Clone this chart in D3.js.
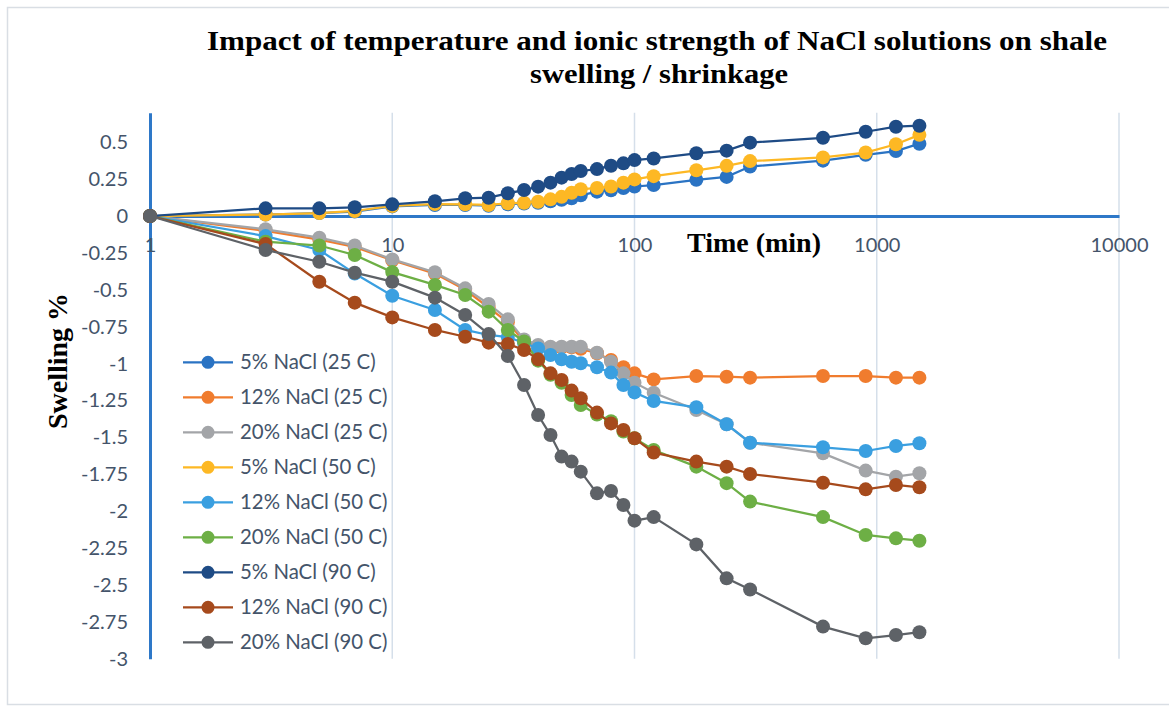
<!DOCTYPE html>
<html>
<head>
<meta charset="utf-8">
<script src="https://cdn.jsdelivr.net/npm/d3@7"></script>
<style>
    body{margin:0;background:#fff;}
    svg{display:block;}
    .tick text{font-family:Lato,'Open Sans',sans-serif;font-size:20px;fill:#44546A;}
</style>
</head>
<body>
<svg id="chart" width="1169" height="706"></svg>
<script>

const times=[1,3,5,7,10,15,20,25,30,35,40,45,50,55,60,70,80,90,100,120,180,240,300,600,900,1200,1500]

const nacl5_25=[0,0.01,0.02,0.03,0.065,0.075,0.075,0.07,0.08,0.085,0.09,0.1,0.11,0.12,0.14,0.165,0.175,0.19,0.2,0.21,0.245,0.265,0.335,0.375,0.415,0.44,0.49]
const nacl12_25=[0,-0.1,-0.16,-0.21,-0.3,-0.39,-0.5,-0.62,-0.72,-0.85,-0.88,-0.89,-0.89,-0.89,-0.9,-0.93,-0.976,-1.025,-1.066,-1.107,-1.084,-1.089,-1.095,-1.084,-1.084,-1.095,-1.095]
const nacl20_25=[0,-0.09,-0.147,-0.2,-0.294,-0.381,-0.49,-0.596,-0.7,-0.836,-0.874,-0.885,-0.885,-0.885,-0.885,-0.926,-0.987,-1.066,-1.129,-1.197,-1.314,-1.411,-1.536,-1.608,-1.725,-1.766,-1.743]
const nacl5_50=[0,0.01,0.02,0.034,0.068,0.081,0.079,0.075,0.086,0.09,0.097,0.113,0.13,0.158,0.181,0.19,0.2,0.226,0.248,0.27,0.31,0.34,0.372,0.397,0.43,0.486,0.55]
const nacl12_50=[0,-0.136,-0.23,-0.39,-0.54,-0.637,-0.772,-0.806,-0.82,-0.86,-0.897,-0.942,-0.971,-0.987,-0.998,-1.025,-1.061,-1.145,-1.195,-1.253,-1.296,-1.411,-1.536,-1.567,-1.592,-1.558,-1.54]
const nacl20_50=[0,-0.174,-0.2,-0.264,-0.38,-0.467,-0.535,-0.648,-0.772,-0.85,-0.98,-1.075,-1.13,-1.213,-1.28,-1.345,-1.39,-1.46,-1.506,-1.585,-1.698,-1.81,-1.935,-2.04,-2.161,-2.184,-2.2]
const nacl5_90=[0,0.052,0.052,0.059,0.079,0.1,0.12,0.124,0.154,0.176,0.199,0.226,0.26,0.285,0.305,0.318,0.341,0.357,0.379,0.39,0.425,0.443,0.497,0.53,0.571,0.605,0.612]
const nacl12_90=[0,-0.19,-0.445,-0.587,-0.687,-0.772,-0.818,-0.858,-0.867,-0.908,-0.971,-1.066,-1.111,-1.183,-1.235,-1.332,-1.405,-1.45,-1.506,-1.603,-1.664,-1.698,-1.748,-1.807,-1.852,-1.822,-1.838]
const nacl20_90=[0,-0.23,-0.31,-0.384,-0.445,-0.553,-0.67,-0.8,-0.948,-1.145,-1.348,-1.484,-1.63,-1.664,-1.732,-1.879,-1.863,-1.958,-2.064,-2.04,-2.225,-2.455,-2.53,-2.782,-2.861,-2.839,-2.82]

const series_names=['5% NaCl (25 C)','12% NaCl (25 C)','20% NaCl (25 C)','5% NaCl (50 C)','12% NaCl (50 C)','20% NaCl (50 C)','5% NaCl (90 C)','12% NaCl (90 C)','20% NaCl (90 C)']
const series_values=[nacl5_25,nacl12_25,nacl20_25,nacl5_50,nacl12_50,nacl20_50,nacl5_90,nacl12_90,nacl20_90]

const x_ticks=[1,10,100,1000,10000]
const y_ticks=[0.5,0.25,0,-0.25,-0.5,-0.75,-1,-1.25,-1.5,-1.75,-2,-2.25,-2.5,-2.75,-3]

const colors=['#2A73C3','#F07C2E','#A3A5A8','#FDB824','#3A9FE0','#6DAF45','#1E4B85','#A64A1C','#5E6267']

const svg=d3.select('#chart')

const x=d3.scaleLog().domain([1,10000]).range([150,1119])
const y=d3.scaleLinear().domain([-3,0.7]).range([658.8,112.7])

const serif='"Liberation Serif", "Times New Roman", serif'

// outer frame
svg.append('rect')
    .attr('x',7.5).attr('y',7.5)
    .attr('width',1180).attr('height',697)
    .attr('fill','none').attr('stroke','#D9DEE4').attr('stroke-width',1.5)

svg.append('g')
    .selectAll('line')
    .data(x_ticks.slice(1))
    .join('line')
    .attr('x1',d=>x(d)).attr('x2',d=>x(d))
    .attr('y1',y(0.7)).attr('y2',y(-3))
    .attr('stroke','#D5DFEA').attr('stroke-width',1.5)

const y_axis=svg.append('g')
    .attr('transform',`translate(${x(1)},0)`)
    .call(d3.axisLeft(y).tickValues(y_ticks).tickFormat(d=>String(d)).tickSize(0).tickSizeOuter(0).tickPadding(22))
y_axis.select('.domain').attr('stroke','#2E78C8').attr('stroke-width',3)

const x_axis=svg.append('g')
    .attr('transform',`translate(0,${y(0)})`)
    .call(d3.axisBottom(x).tickValues(x_ticks).tickFormat(d=>String(d)).tickSize(0).tickSizeOuter(0).tickPadding(22))
x_axis.select('.domain').attr('stroke','#2E78C8').attr('stroke-width',3)

const line=d3.line()
    .x((d,i)=>x(times[i]))
    .y(d=>y(d))

series_values.forEach((vals,k)=>{
    let g=svg.append('g').attr('class','series')
    g.append('path')
        .attr('d',line(vals))
        .attr('fill','none')
        .attr('stroke',colors[k])
        .attr('stroke-width',2.25)
    g.selectAll('circle')
        .data(vals)
        .join('circle')
        .attr('cx',(d,i)=>x(times[i]))
        .attr('cy',d=>y(d))
        .attr('r',7)
        .attr('fill',colors[k])
})

// legend
const legend=svg.append('g').selectAll('g')
    .data(series_names)
    .join('g')
    .attr('transform',(d,i)=>`translate(0,${362.3+i*35})`)
legend.append('line')
    .attr('x1',183).attr('x2',233)
    .attr('stroke',(d,i)=>colors[i]).attr('stroke-width',2.25)
legend.append('circle')
    .attr('cx',208).attr('r',6.5)
    .attr('fill',(d,i)=>colors[i])
legend.append('text')
    .attr('x',240).attr('dy','0.35em')
    .style('font-family','Lato, "Open Sans", sans-serif')
    .style('font-size','20.4px')
    .attr('fill','#44546A')
    .text(d=>d)

// titles
const title=svg.append('text')
    .attr('text-anchor','middle')
    .style('font-family',serif)
    .style('font-weight','bold')
    .style('font-size','28px')
    .attr('fill','#000')
title.append('tspan').attr('x',657).attr('y',50)
    .attr('textLength',900).attr('lengthAdjust','spacingAndGlyphs')
    .text('Impact of temperature and ionic strength of NaCl solutions on shale')
title.append('tspan').attr('x',659).attr('y',83)
    .attr('textLength',258).attr('lengthAdjust','spacingAndGlyphs')
    .text('swelling / shrinkage')

svg.append('text')
    .attr('x',754).attr('y',252)
    .attr('text-anchor','middle')
    .style('font-family',serif)
    .style('font-weight','bold')
    .style('font-size','28px')
    .text('Time (min)')

svg.append('text')
    .attr('transform','translate(67,361) rotate(-90)')
    .attr('text-anchor','middle')
    .style('font-family',serif)
    .style('font-weight','bold')
    .style('font-size','28px')
    .text('Swelling %')

</script>
</body>
</html>
